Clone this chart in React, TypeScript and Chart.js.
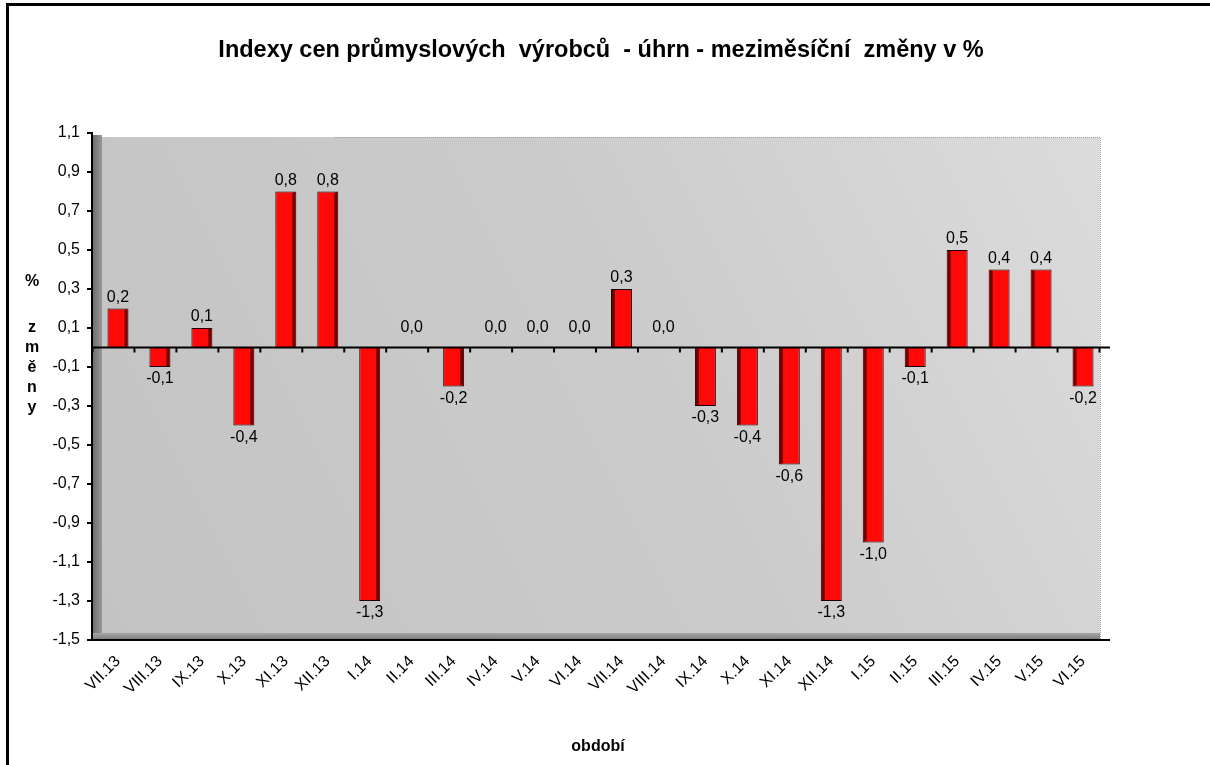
import React, { useEffect, useRef } from "react";
import { Chart, registerables } from "chart.js";

Chart.register(...registerables);

const categories = [
  "VII.13", "VIII.13", "IX.13", "X.13", "XI.13", "XII.13",
  "I.14", "II.14", "III.14", "IV.14", "V.14", "VI.14",
  "VII.14", "VIII.14", "IX.14", "X.14", "XI.14", "XII.14",
  "I.15", "II.15", "III.15", "IV.15", "V.15", "VI.15",
];
const values = [
  0.2, -0.1, 0.1, -0.4, 0.8, 0.8,
  -1.3, 0.0, -0.2, 0.0, 0.0, 0.0,
  0.3, 0.0, -0.3, -0.4, -0.6, -1.3,
  -1.0, -0.1, 0.5, 0.4, 0.4, -0.2,
];
const titleText = "Indexy cen průmyslových  výrobců  - úhrn - meziměsíční  změny v %";
const yTitleLetters = ["%", "", "z", "m", "ě", "n", "y"];
const xTitleText = "období";
const yMin = -1.5;
const yMax = 1.1;
const yStep = 0.2;

const FONT = "'Liberation Sans', Arial, sans-serif";
const fmt = (v: number) => v.toFixed(1).replace(".", ",");

const AXIS_X = 92;
const PLOT_RIGHT = 1110;

const decorPlugin = {
  id: "decor",
  beforeDraw(chart: any) {
    const { ctx, chartArea: a } = chart;
    ctx.save();
    ctx.fillStyle = "#ffffff";
    ctx.fillRect(0, 0, chart.width, chart.height);
    // frame
    ctx.fillStyle = "#000";
    ctx.fillRect(6, 3, 3, chart.height);
    ctx.fillRect(6, 3, chart.width, 3);
    // plot background (back wall)
    const top = a.top + 4;
    const right = 1100;
    const g = ctx.createLinearGradient(AXIS_X, a.bottom, right, top);
    g.addColorStop(0, "#c3c3c3");
    g.addColorStop(0.55, "#cbcbcb");
    g.addColorStop(1, "#dcdcdc");
    ctx.fillStyle = g;
    ctx.fillRect(AXIS_X, top, right - AXIS_X, a.bottom - top);
    ctx.strokeStyle = "#a0a0a0";
    ctx.lineWidth = 1;
    ctx.setLineDash([1, 1]);
    ctx.beginPath();
    ctx.moveTo(335, top + 0.5);
    ctx.lineTo(right + 0.5, top + 0.5);
    ctx.lineTo(right + 0.5, a.bottom);
    ctx.stroke();
    ctx.setLineDash([]);
    // left wall
    const w = ctx.createLinearGradient(AXIS_X, 0, AXIS_X + 11, 0);
    w.addColorStop(0, "#6a6a6a");
    w.addColorStop(1, "#9c9c9c");
    ctx.fillStyle = w;
    ctx.fillRect(AXIS_X, top - 2, 10, a.bottom - top + 2);
    // floor
    const f = ctx.createLinearGradient(0, a.bottom - 7, 0, a.bottom);
    f.addColorStop(0, "#a6a6a6");
    f.addColorStop(1, "#7a7a7a");
    ctx.fillStyle = f;
    ctx.fillRect(AXIS_X, a.bottom - 7, right - AXIS_X, 7);
    // title
    ctx.fillStyle = "#000";
    ctx.textAlign = "center";
    ctx.textBaseline = "middle";
    ctx.font = `bold 23.5px ${FONT}`;
    ctx.fillText(titleText, 601, 51);
    // y title
    ctx.font = `bold 16px ${FONT}`;
    let yy = 282;
    for (const l of yTitleLetters) {
      if (l) ctx.fillText(l, 32, yy);
      yy += l ? 20 : 26;
    }
    // x title
    ctx.fillText(xTitleText, 598, 747);
    ctx.restore();
  },
  afterDatasetsDraw(chart: any) {
    const { ctx, chartArea: a } = chart;
    const meta = chart.getDatasetMeta(0);
    const ys = chart.scales.y;
    const xs = chart.scales.x;
    const zero = ys.getPixelForValue(0);
    ctx.save();
    // 3d side shading on bars
    meta.data.forEach((bar: any, i: number) => {
      const v = values[i];
      if (v === 0) return;
      const left = bar.x - bar.width / 2;
      const right = bar.x + bar.width / 2;
      const top = Math.min(bar.y, bar.base);
      const h = Math.abs(bar.y - bar.base);
      ctx.fillStyle = "#6e0000";
      if (bar.x < 600) ctx.fillRect(right - 4, top + 1, 3, h - 2);
      else ctx.fillRect(left + 1, top + 1, 3, h - 2);
    });
    ctx.strokeStyle = "#000";
    ctx.lineWidth = 2;
    // y axis line + ticks
    ctx.beginPath();
    ctx.moveTo(AXIS_X, ys.getPixelForValue(yMax) - 1);
    ctx.lineTo(AXIS_X, a.bottom + 1);
    ctx.stroke();
    ys.ticks.forEach((t: any) => {
      const y = ys.getPixelForValue(t.value);
      ctx.beginPath();
      ctx.moveTo(AXIS_X - 5, y);
      ctx.lineTo(AXIS_X, y);
      ctx.stroke();
    });
    // bottom axis line
    ctx.beginPath();
    ctx.moveTo(AXIS_X, a.bottom);
    ctx.lineTo(PLOT_RIGHT, a.bottom);
    ctx.stroke();
    // zero line
    ctx.beginPath();
    ctx.moveTo(AXIS_X, zero);
    ctx.lineTo(PLOT_RIGHT, zero);
    ctx.stroke();
    const step = xs.getPixelForValue(1) - xs.getPixelForValue(0);
    for (let i = 0; i <= categories.length; i++) {
      const x = xs.getPixelForValue(0) - step / 2 + i * step - 4.5;
      ctx.beginPath();
      ctx.moveTo(x, zero);
      ctx.lineTo(x, zero + 5);
      ctx.stroke();
    }
    // labels
    ctx.fillStyle = "#000";
    ctx.font = `16px ${FONT}`;
    ctx.textAlign = "center";
    meta.data.forEach((bar: any, i: number) => {
      const v = values[i];
      const txt = fmt(v);
      if (v > 0) {
        ctx.textBaseline = "bottom";
        ctx.fillText(txt, bar.x, bar.y - 3);
      } else if (v === 0) {
        ctx.textBaseline = "bottom";
        ctx.fillText(txt, bar.x, zero - 12);
      } else {
        ctx.textBaseline = "top";
        ctx.fillText(txt, bar.x, bar.y + 4);
      }
    });
    ctx.restore();
  },
};

export default function App() {
  const ref = useRef<HTMLCanvasElement>(null);
  useEffect(() => {
    if (!ref.current) return;
    const chart = new Chart(ref.current, {
      type: "bar",
      data: {
        labels: categories,
        datasets: [
          {
            data: values,
            backgroundColor: "#ff0808",
            borderColor: "#1a0000",
            borderWidth: 1,
            barPercentage: 0.5,
            categoryPercentage: 1,
          },
        ],
      },
      options: {
        responsive: false,
        animation: false,
        layout: { padding: { top: 133, right: 106, left: 0, bottom: 0 } },
        plugins: {
          legend: { display: false },
          title: { display: false },
          tooltip: { enabled: false },
        },
        scales: {
          x: {
            grid: { display: false },
            border: { display: false },
            ticks: {
              color: "#000",
              font: { family: FONT, size: 16 },
              minRotation: 45,
              maxRotation: 45,
              padding: 4,
              autoSkip: false,
            },
            afterFit(scale: any) {
              scale.height = 125;
            },
          },
          y: {
            min: yMin,
            max: yMax,
            grid: { display: false },
            border: { display: false },
            ticks: {
              stepSize: yStep,
              color: "#000",
              font: { family: FONT, size: 16 },
              padding: 9,
              callback: (v: any) => fmt(Number(v)),
            },
            afterFit(scale: any) {
              scale.width = 97;
            },
          },
        },
      },
      plugins: [decorPlugin],
    });
    return () => chart.destroy();
  }, []);
  return (
    <div style={{ position: "absolute", left: 0, top: 0, width: 1210, height: 765 }}>
      <canvas ref={ref} width={1210} height={765} style={{ width: 1210, height: 765, display: "block" }} />
    </div>
  );
}
